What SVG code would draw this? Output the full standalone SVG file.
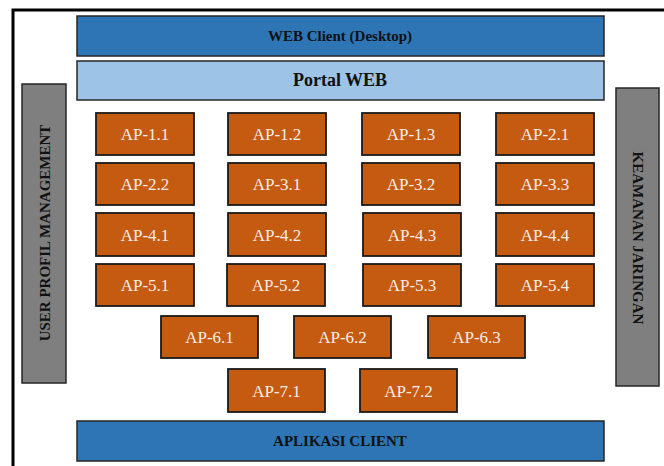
<svg xmlns="http://www.w3.org/2000/svg" width="664" height="466" viewBox="0 0 664 466">
  <style>
    .bar { stroke: #262626; stroke-width: 1.5; }
    .dark { fill: #2E75B6; }
    .light { fill: #9DC3E6; }
    .side { fill: #7F7F7F; stroke: #262626; stroke-width: 1.5; }
    .ap rect { fill: #C55A11; stroke: #1a1a1a; stroke-width: 1.8; }
    .ap text { fill: #F5EEE8; font-family: "Liberation Serif", "Times New Roman", serif; font-size: 17px; text-anchor: middle; }
    .hd { fill: #111; font-family: "Liberation Serif", "Times New Roman", serif; font-weight: bold; text-anchor: middle; }
  </style>

  <rect width="664" height="466" fill="#ffffff"/>
  <!-- outer frame -->
  <path d="M13,466 V10 H664" fill="none" stroke="#000" stroke-width="3"/>

  <g id="web-client">
    <rect class="bar dark" x="77" y="16" width="527" height="40"/>
    <text class="hd" x="340" y="41" font-size="15">WEB Client (Desktop)</text>
  </g>
  <g id="portal-web">
    <rect class="bar light" x="77" y="61" width="527" height="39"/>
    <text class="hd" x="340" y="86" font-size="18">Portal WEB</text>
  </g>
  <g id="aplikasi-client">
    <rect class="bar dark" x="77" y="421" width="527" height="40"/>
    <text class="hd" x="340" y="446" font-size="15">APLIKASI CLIENT</text>
  </g>

  <g id="user-profil">
    <rect class="side" x="22" y="84" width="44" height="299"/>
    <text class="hd" font-size="15" transform="translate(50,233) rotate(-90)">USER PROFIL MANAGEMENT</text>
  </g>
  <g id="keamanan">
    <rect class="side" x="616" y="88" width="43" height="298"/>
    <text class="hd" font-size="15" transform="translate(633,238) rotate(90)">KEAMANAN JARINGAN</text>
  </g>

  <!-- application modules -->
  <g id="ap-1-1" class="ap"><rect x="96" y="113" width="98" height="42"/><text x="145" y="140">AP-1.1</text></g>
  <g id="ap-1-2" class="ap"><rect x="228" y="113" width="98" height="42"/><text x="277" y="140">AP-1.2</text></g>
  <g id="ap-1-3" class="ap"><rect x="362" y="113" width="98" height="42"/><text x="411" y="140">AP-1.3</text></g>
  <g id="ap-2-1" class="ap"><rect x="496" y="113" width="98" height="42"/><text x="545" y="140">AP-2.1</text></g>

  <g id="ap-2-2" class="ap"><rect x="96" y="163" width="98" height="42"/><text x="145" y="190">AP-2.2</text></g>
  <g id="ap-3-1" class="ap"><rect x="228" y="163" width="98" height="42"/><text x="277" y="190">AP-3.1</text></g>
  <g id="ap-3-2" class="ap"><rect x="362" y="163" width="98" height="42"/><text x="411" y="190">AP-3.2</text></g>
  <g id="ap-3-3" class="ap"><rect x="496" y="163" width="98" height="42"/><text x="545" y="190">AP-3.3</text></g>

  <g id="ap-4-1" class="ap"><rect x="96" y="213" width="98" height="43"/><text x="145" y="241">AP-4.1</text></g>
  <g id="ap-4-2" class="ap"><rect x="228" y="213" width="98" height="43"/><text x="277" y="241">AP-4.2</text></g>
  <g id="ap-4-3" class="ap"><rect x="363" y="213" width="98" height="43"/><text x="412" y="241">AP-4.3</text></g>
  <g id="ap-4-4" class="ap"><rect x="496" y="213" width="98" height="43"/><text x="545" y="241">AP-4.4</text></g>

  <g id="ap-5-1" class="ap"><rect x="96" y="264" width="98" height="42"/><text x="145" y="291">AP-5.1</text></g>
  <g id="ap-5-2" class="ap"><rect x="227" y="264" width="98" height="42"/><text x="276" y="291">AP-5.2</text></g>
  <g id="ap-5-3" class="ap"><rect x="363" y="264" width="98" height="42"/><text x="412" y="291">AP-5.3</text></g>
  <g id="ap-5-4" class="ap"><rect x="496" y="264" width="98" height="42"/><text x="545" y="291">AP-5.4</text></g>

  <g id="ap-6-1" class="ap"><rect x="161" y="316" width="97" height="42"/><text x="209.5" y="343">AP-6.1</text></g>
  <g id="ap-6-2" class="ap"><rect x="294" y="316" width="97" height="42"/><text x="342.5" y="343">AP-6.2</text></g>
  <g id="ap-6-3" class="ap"><rect x="428" y="316" width="97" height="42"/><text x="476.5" y="343">AP-6.3</text></g>

  <g id="ap-7-1" class="ap"><rect x="228" y="369" width="97" height="43"/><text x="276.5" y="397">AP-7.1</text></g>
  <g id="ap-7-2" class="ap"><rect x="360" y="369" width="97" height="43"/><text x="408.5" y="397">AP-7.2</text></g>
</svg>
